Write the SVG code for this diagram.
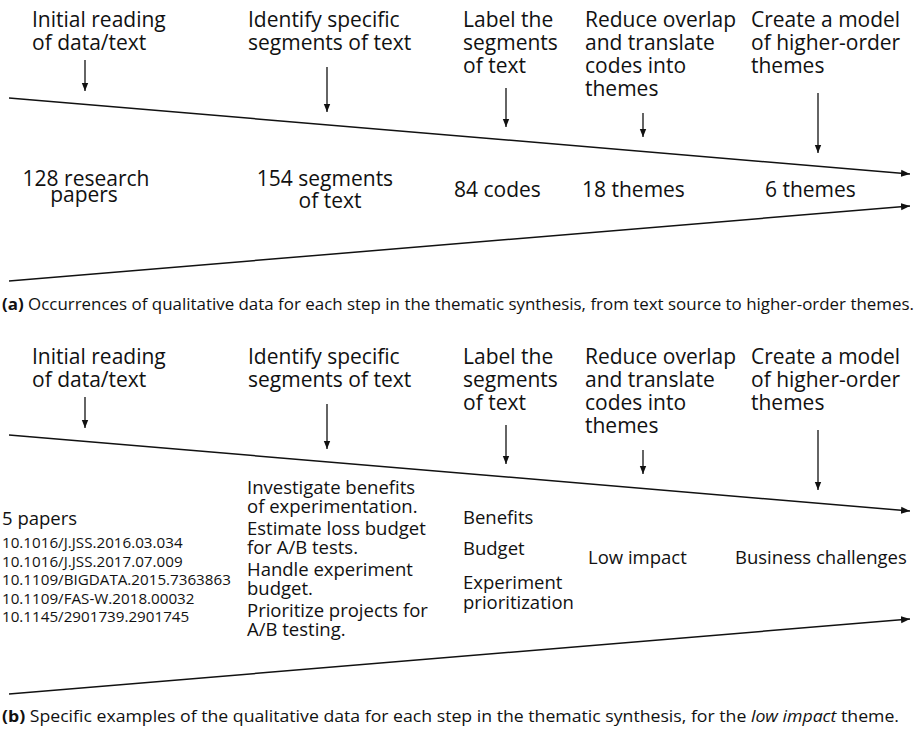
<svg xmlns="http://www.w3.org/2000/svg" width="918" height="737" viewBox="0 0 918 737">
<style>
text{font-family:"Open Sans","Noto Sans","Liberation Sans",sans-serif;fill:#111}
.h{font-size:21px}
.b{font-size:18.5px}
.d{font-size:15.2px}
.c{font-size:16px}
.ln{stroke:#111;stroke-width:1.5;fill:none}
.ar{stroke:#111;stroke-width:1.3;fill:none}
</style>
<defs>
<marker id="big" markerUnits="userSpaceOnUse" markerWidth="10" markerHeight="8" refX="9" refY="4" orient="auto" viewBox="0 0 10 8"><path d="M0,0.5 L9,4 L0,7.5 z" fill="#111"/></marker>
<marker id="sm" markerUnits="userSpaceOnUse" markerWidth="9" markerHeight="8" refX="8" refY="4" orient="auto" viewBox="0 0 9 8"><path d="M0,0.8 L8,4 L0,7.2 z" fill="#111"/></marker>
</defs>

<g id="panel-a">
<g id="a-step1"><text class="h" x="32" y="27">Initial reading</text><text class="h" x="32" y="50">of data/text</text></g>
<g id="a-step2"><text class="h" x="248" y="27">Identify specific</text><text class="h" x="248" y="50">segments of text</text></g>
<g id="a-step3"><text class="h" x="463" y="27">Label the</text><text class="h" x="463" y="50">segments</text><text class="h" x="463" y="73">of text</text></g>
<g id="a-step4"><text class="h" x="585" y="27">Reduce overlap</text><text class="h" x="585" y="50">and translate</text><text class="h" x="585" y="73">codes into</text><text class="h" x="585" y="96">themes</text></g>
<g id="a-step5"><text class="h" x="751" y="27">Create a model</text><text class="h" x="751" y="50">of higher-order</text><text class="h" x="751" y="73">themes</text></g>

<g id="a-out1"><text class="h" x="86" y="186" text-anchor="middle">128 research</text><text class="h" x="84" y="202" text-anchor="middle">papers</text></g>
<g id="a-out2"><text class="h" x="325" y="186" text-anchor="middle">154 segments</text><text class="h" x="330" y="208" text-anchor="middle">of text</text></g>
<g id="a-out3"><text class="h" x="454" y="197">84 codes</text></g>
<g id="a-out4"><text class="h" x="582" y="197">18 themes</text></g>
<g id="a-out5"><text class="h" x="765" y="197">6 themes</text></g>

<text id="a-caption" class="c" x="2" y="310" textLength="912" lengthAdjust="spacingAndGlyphs"><tspan font-weight="bold">(a)</tspan> Occurrences of qualitative data for each step in the thematic synthesis, from text source to higher-order themes.</text>
</g>

<g id="panel-b">
<g id="b-step1"><text class="h" x="32" y="364">Initial reading</text><text class="h" x="32" y="387">of data/text</text></g>
<g id="b-step2"><text class="h" x="248" y="364">Identify specific</text><text class="h" x="248" y="387">segments of text</text></g>
<g id="b-step3"><text class="h" x="463" y="364">Label the</text><text class="h" x="463" y="387">segments</text><text class="h" x="463" y="410">of text</text></g>
<g id="b-step4"><text class="h" x="585" y="364">Reduce overlap</text><text class="h" x="585" y="387">and translate</text><text class="h" x="585" y="410">codes into</text><text class="h" x="585" y="433">themes</text></g>
<g id="b-step5"><text class="h" x="751" y="364">Create a model</text><text class="h" x="751" y="387">of higher-order</text><text class="h" x="751" y="410">themes</text></g>

<g id="b-out1">
<text class="b" x="2" y="525">5 papers</text>
<text class="d" x="2" y="548">10.1016/J.JSS.2016.03.034</text>
<text class="d" x="2" y="566.5">10.1016/J.JSS.2017.07.009</text>
<text class="d" x="2" y="585">10.1109/BIGDATA.2015.7363863</text>
<text class="d" x="2" y="603.5">10.1109/FAS-W.2018.00032</text>
<text class="d" x="2" y="622">10.1145/2901739.2901745</text>
</g>
<g id="b-out2">
<text class="b" x="247" y="494">Investigate benefits</text>
<text class="b" x="247" y="513">of experimentation.</text>
<text class="b" x="247" y="535">Estimate loss budget</text>
<text class="b" x="247" y="554">for A/B tests.</text>
<text class="b" x="247" y="576">Handle experiment</text>
<text class="b" x="247" y="595">budget.</text>
<text class="b" x="247" y="617">Prioritize projects for</text>
<text class="b" x="247" y="636">A/B testing.</text>
</g>
<g id="b-out3">
<text class="b" x="463" y="524">Benefits</text>
<text class="b" x="463" y="555">Budget</text>
<text class="b" x="463" y="589">Experiment</text>
<text class="b" x="463" y="609">prioritization</text>
</g>
<g id="b-out4"><text class="b" x="588" y="564">Low impact</text></g>
<g id="b-out5"><text class="b" x="735" y="564">Business challenges</text></g>

<text id="b-caption" class="c" x="2" y="722" textLength="897" lengthAdjust="spacingAndGlyphs"><tspan font-weight="bold">(b)</tspan> Specific examples of the qualitative data for each step in the thematic synthesis, for the <tspan font-style="italic">low impact</tspan> theme.</text>
</g>

<g id="connectors">
<line class="ln" x1="9" y1="98" x2="910" y2="174" marker-end="url(#big)"/>
<line class="ln" x1="9" y1="281" x2="910" y2="206" marker-end="url(#big)"/>
<line class="ar" x1="85" y1="60" x2="85" y2="91" marker-end="url(#sm)"/>
<line class="ar" x1="327" y1="67" x2="327" y2="112" marker-end="url(#sm)"/>
<line class="ar" x1="506" y1="88" x2="506" y2="127" marker-end="url(#sm)"/>
<line class="ar" x1="643" y1="113" x2="643" y2="137" marker-end="url(#sm)"/>
<line class="ar" x1="818" y1="93" x2="818" y2="153" marker-end="url(#sm)"/>

<line class="ln" x1="9" y1="435" x2="910" y2="511" marker-end="url(#big)"/>
<line class="ln" x1="9" y1="694" x2="910" y2="619" marker-end="url(#big)"/>
<line class="ar" x1="85" y1="397" x2="85" y2="428" marker-end="url(#sm)"/>
<line class="ar" x1="327" y1="404" x2="327" y2="449" marker-end="url(#sm)"/>
<line class="ar" x1="506" y1="425" x2="506" y2="464" marker-end="url(#sm)"/>
<line class="ar" x1="643" y1="450" x2="643" y2="474" marker-end="url(#sm)"/>
<line class="ar" x1="818" y1="430" x2="818" y2="490" marker-end="url(#sm)"/>
</g>
</svg>
